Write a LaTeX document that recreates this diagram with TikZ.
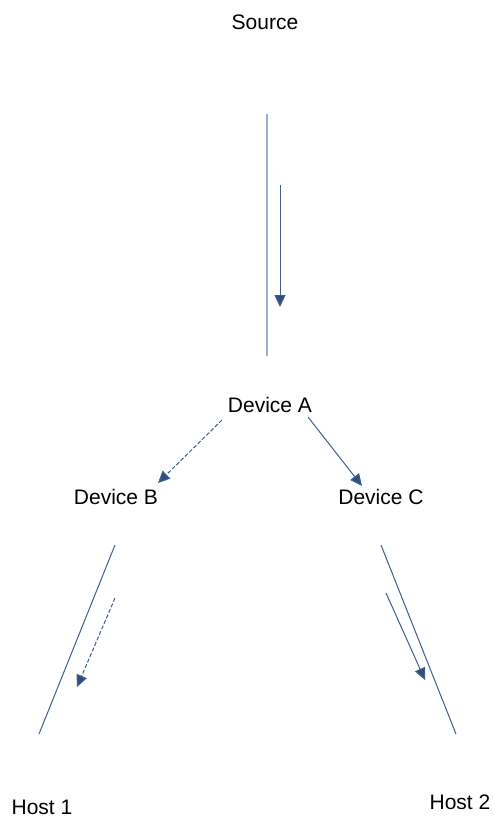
\documentclass[tikz,border=0pt]{standalone}
\usepackage{fontspec}
\setmainfont{Liberation Sans}
\usetikzlibrary{arrows.meta}
\definecolor{lineblue}{HTML}{3F5E8C}
\definecolor{tipblue}{HTML}{2F4F7F}
\definecolor{lightblue}{HTML}{9AAFCC}
\tikzset{
  lbl/.style={font=\fontsize{21}{24}\selectfont, inner sep=0pt, anchor=center},
  wire/.style={draw=lineblue, line width=1pt},
  flow/.style={draw=lineblue, line width=1pt, -{Triangle[length=12pt,width=11pt,fill=tipblue]}},
  dflow/.style={flow, dash pattern=on 4pt off 2pt},
}
\begin{document}
\begin{tikzpicture}[x=1pt,y=-1pt]
\useasboundingbox (0,0) rectangle (493,816);
\node[lbl] (src) at (265,22) {Source};
\node[lbl] (A) at (270,405) {Device A};
\node[lbl] (B) at (116,497) {Device B};
\node[lbl] (C) at (381,497) {Device C};
\node[lbl] (H1) at (42,807) {Host 1};
\node[lbl] (H2) at (460,802) {Host 2};
% top link
\coordinate (t1) at (267,114);
\coordinate (t2) at (267,356);
\draw[draw=lightblue, line width=1.6pt] (t1) -- (t2);
\coordinate (ta1) at (280,185);
\coordinate (ta2) at (280,307);
\draw[flow] (ta1) -- (ta2);
% A to B, A to C
\coordinate (ab1) at (222,420);
\coordinate (ab2) at (158,483);
\draw[dflow] (ab1) -- (ab2);
\coordinate (ac1) at (308,417);
\coordinate (ac2) at (362,486);
\draw[flow] (ac1) -- (ac2);
% B to host 1
\coordinate (l1) at (115,545);
\coordinate (l2) at (39,734);
\draw[wire] (l1) -- (l2);
\coordinate (la1) at (115,598);
\coordinate (la2) at (77,687);
\draw[dflow] (la1) -- (la2);
% C to host 2
\coordinate (r1) at (381,545);
\coordinate (r2) at (456,734);
\draw[wire] (r1) -- (r2);
\coordinate (ra1) at (386,593);
\coordinate (ra2) at (425,680);
\draw[flow] (ra1) -- (ra2);
\end{tikzpicture}
\end{document}
